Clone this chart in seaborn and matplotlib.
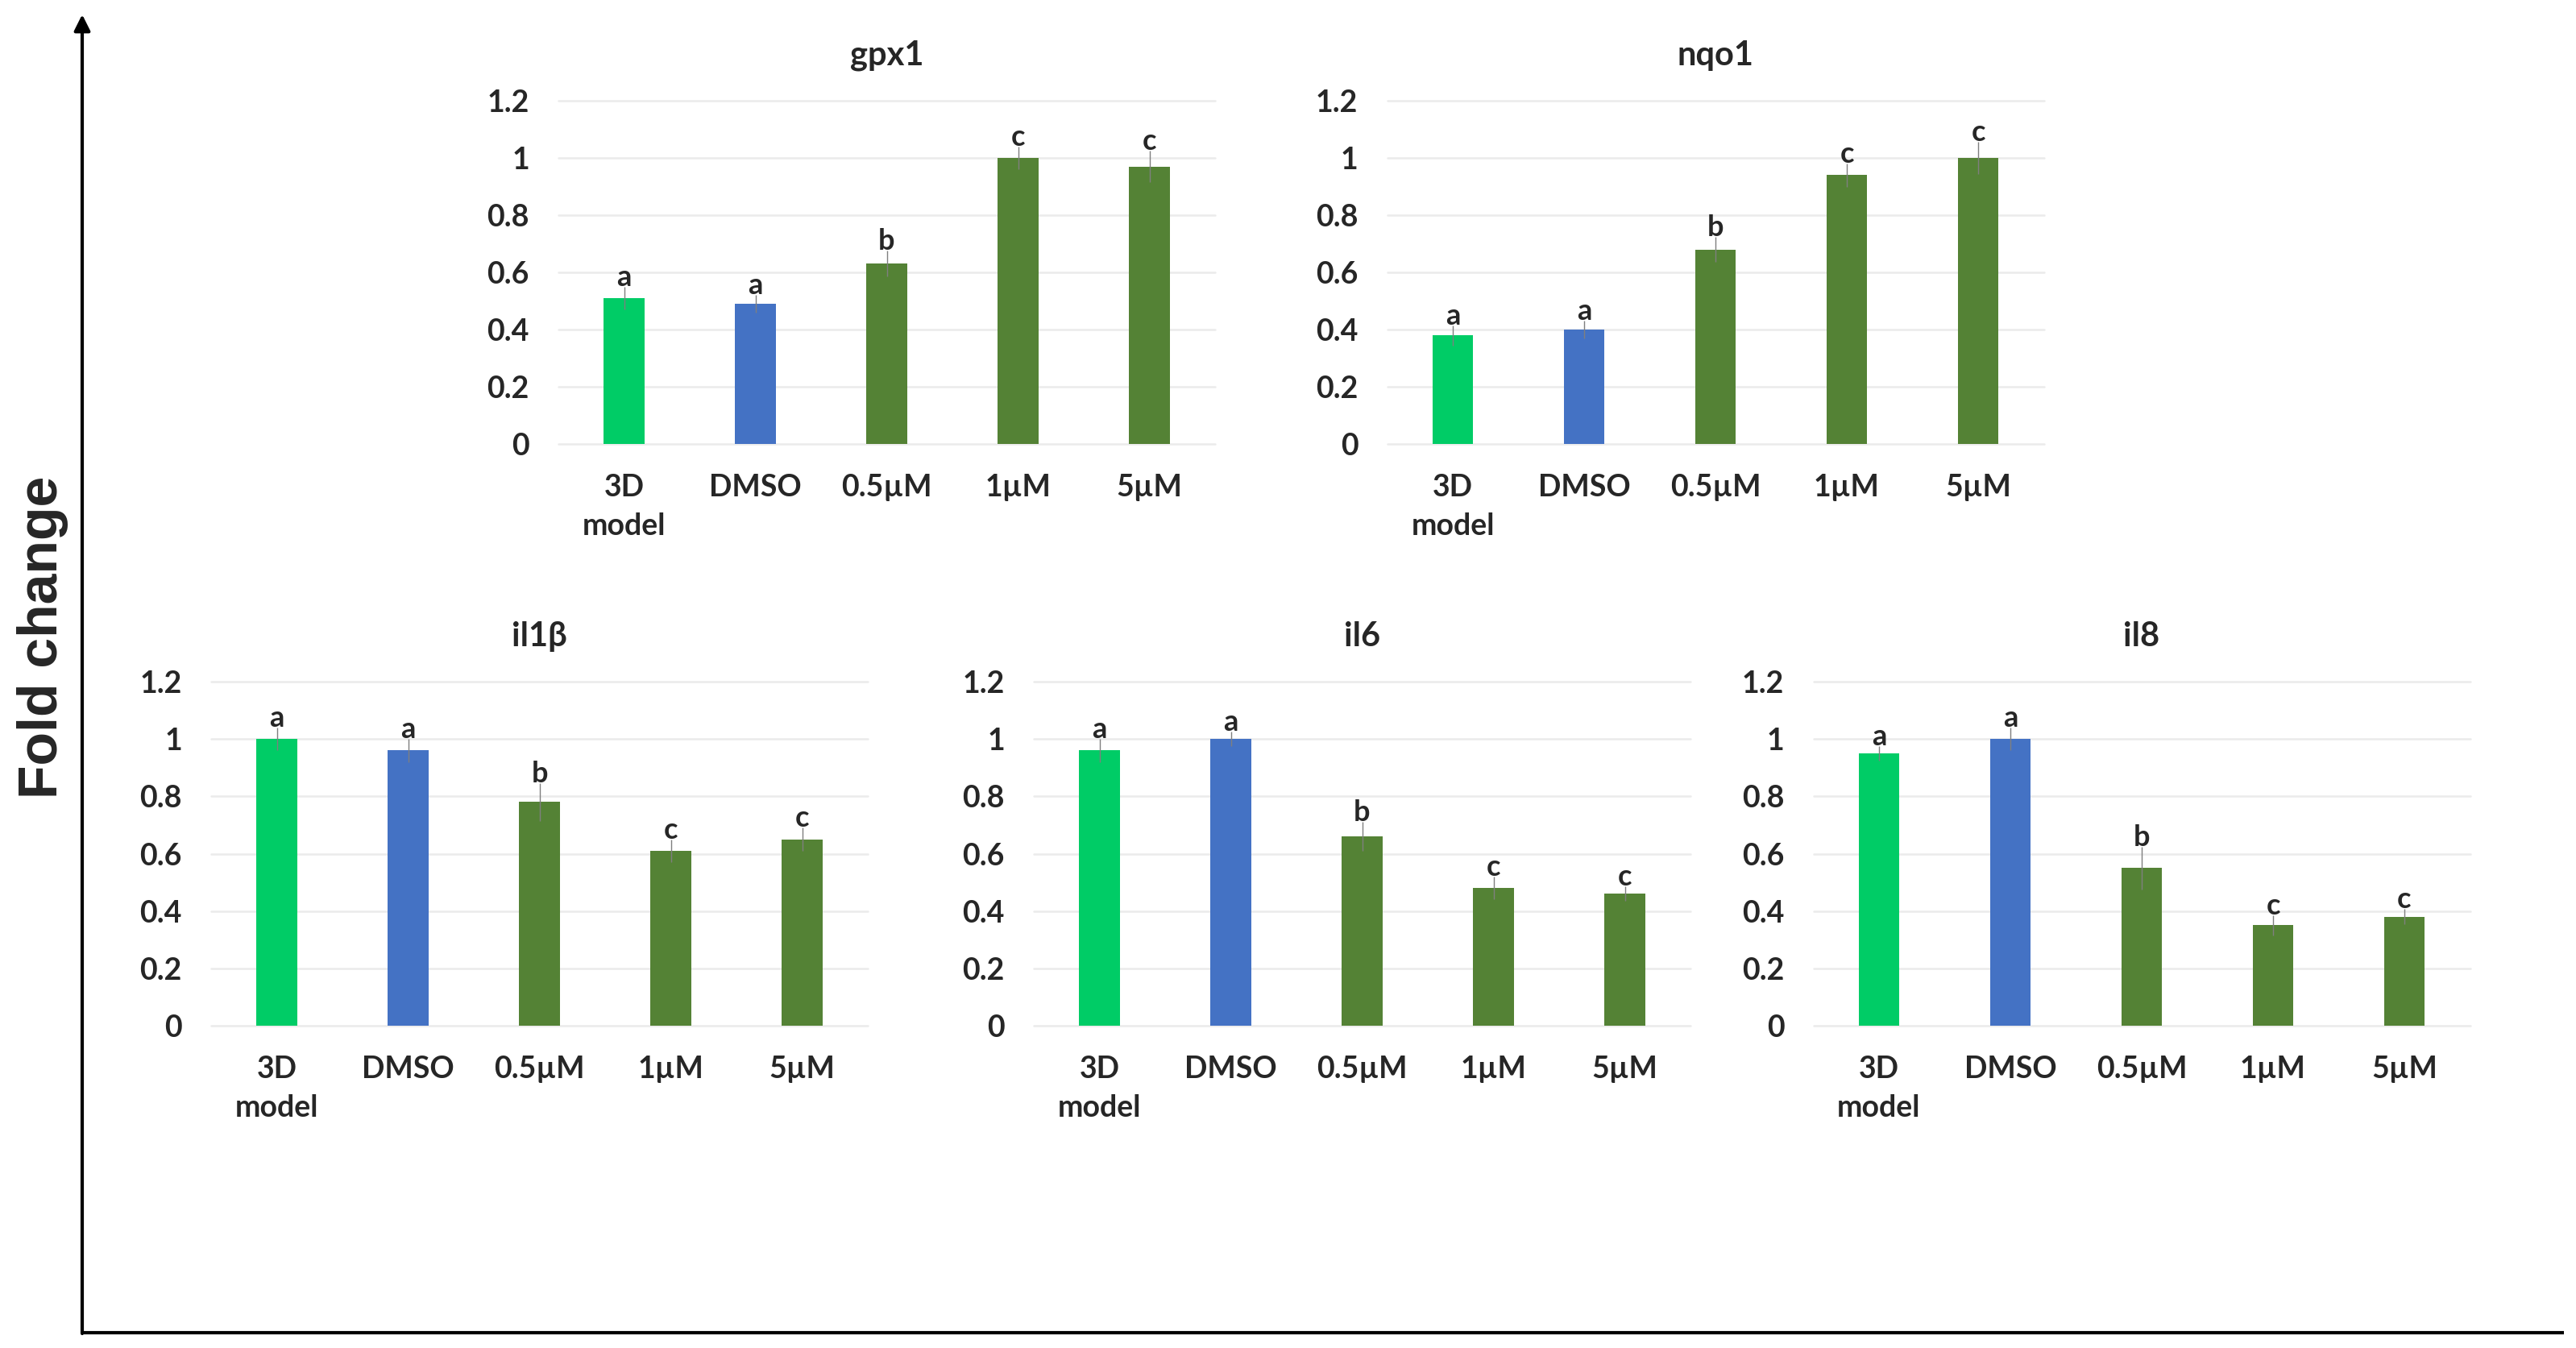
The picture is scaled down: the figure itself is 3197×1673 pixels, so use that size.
import numpy as np
import pandas as pd
import matplotlib
matplotlib.use("Agg")
import matplotlib.pyplot as plt
import seaborn as sns

# categories shared by every panel
groups = ["3D\nmodel", "DMSO", "0.5µM", "1µM", "5µM"]
bar_colors = ["#00CC66", "#4472C4", "#548235", "#548235", "#548235"]
ytick_vals = [0, 0.2, 0.4, 0.6, 0.8, 1.0, 1.2]
ytick_labels = ["0", "0.2", "0.4", "0.6", "0.8", "1", "1.2"]

# fold change values, error bars and significance letters
gpx1 = [0.51, 0.49, 0.63, 1.00, 0.97]
gpx1_err = [0.04, 0.03, 0.045, 0.04, 0.055]
gpx1_sig = ["a", "a", "b", "c", "c"]

nqo1 = [0.38, 0.40, 0.68, 0.94, 1.00]
nqo1_err = [0.035, 0.03, 0.043, 0.04, 0.056]
nqo1_sig = ["a", "a", "b", "c", "c"]

il1b = [1.00, 0.96, 0.78, 0.61, 0.65]
il1b_err = [0.04, 0.04, 0.065, 0.04, 0.04]
il1b_sig = ["a", "a", "b", "c", "c"]

il6 = [0.96, 1.00, 0.66, 0.48, 0.46]
il6_err = [0.04, 0.025, 0.05, 0.04, 0.025]
il6_sig = ["a", "a", "b", "c", "c"]

il8 = [0.95, 1.00, 0.55, 0.35, 0.38]
il8_err = [0.025, 0.04, 0.074, 0.035, 0.027]
il8_sig = ["a", "a", "b", "c", "c"]

W, H = 3197, 1673

sns.set_theme(style="white")
plt.rcParams["font.family"] = ["Lato", "DejaVu Sans"]

fig = plt.figure(figsize=(W / 100, H / 100), dpi=100)


def px_rect(left, right, top, bottom):
    # pixel box -> figure fraction rect
    return [left / W, 1 - bottom / H, (right - left) / W, (bottom - top) / H]


def panel(rect, title, vals, errs, sig):
    ax = fig.add_axes(rect)
    df = pd.DataFrame({"group": groups, "value": vals})
    sns.barplot(data=df, x="group", y="value", hue="group", palette=bar_colors,
                width=0.31, saturation=1, errorbar=None, legend=False,
                linewidth=0, ax=ax)
    ax.errorbar(x=np.arange(len(vals)), y=vals, yerr=errs, fmt="none",
                ecolor="#7f7f7f", elinewidth=1.0, capsize=0, zorder=3)
    for i, (v, e, s) in enumerate(zip(vals, errs, sig)):
        ax.annotate(s, (i, v + e), xytext=(0, -3.5), textcoords="offset points",
                    ha="center", va="bottom", fontsize=26, fontweight="bold")
    ax.set_xlim(-0.5, 4.5)
    ax.set_ylim(0, 1.2)
    ax.set_yticks(ytick_vals)
    ax.set_yticklabels(ytick_labels)
    ax.yaxis.grid(True, color="#EBEBEB", lw=1.8)
    for gl in ax.get_ygridlines():
        gl.set_clip_on(False)
    ax.set_axisbelow(True)
    sns.despine(ax=ax, left=True, bottom=True)
    ax.tick_params(axis="y", length=0, pad=26, labelsize=27)
    ax.tick_params(axis="x", length=0, pad=27, labelsize=27)
    for lab in ax.get_xticklabels() + ax.get_yticklabels():
        lab.set_fontweight("bold")
        lab.set_linespacing(1.5)
    ax.set_xlabel("")
    ax.set_ylabel("")
    ax.set_title(title, fontsize=30, fontweight="bold", pad=32)
    return ax


panel(px_rect(693, 1508, 125, 551), "gpx1", gpx1, gpx1_err, gpx1_sig)
panel(px_rect(1721.5, 2536.5, 125, 551), "nqo1", nqo1, nqo1_err, nqo1_sig)
panel(px_rect(262, 1077, 846, 1273), "il1β", il1b, il1b_err, il1b_sig)
panel(px_rect(1283, 2098, 846, 1273), "il6", il6, il6_err, il6_sig)
panel(px_rect(2250.5, 3065.5, 846, 1273), "il8", il8, il8_err, il8_sig)

# big frame axes with arrow drawn over the whole figure
frame = fig.add_axes([0, 0, 1, 1])
frame.set_xlim(0, W)
frame.set_ylim(H, 0)
frame.axis("off")
frame.patch.set_alpha(0)
frame.plot([102, 3182], [1654, 1654], color="black", lw=3, solid_capstyle="butt")
frame.annotate("", xy=(102, 18), xytext=(102, 1655),
               arrowprops=dict(arrowstyle="-|>,head_length=0.6,head_width=0.3",
                               color="black", lw=3, mutation_scale=20,
                               shrinkA=0, shrinkB=0))

fig.text(53 / W, 1 - 791 / H, "Fold change", rotation=90, ha="center", va="center",
         fontsize=49, fontweight="bold", family=["Liberation Sans", "DejaVu Sans"])

plt.savefig("out.png", dpi=100)
plt.close()
